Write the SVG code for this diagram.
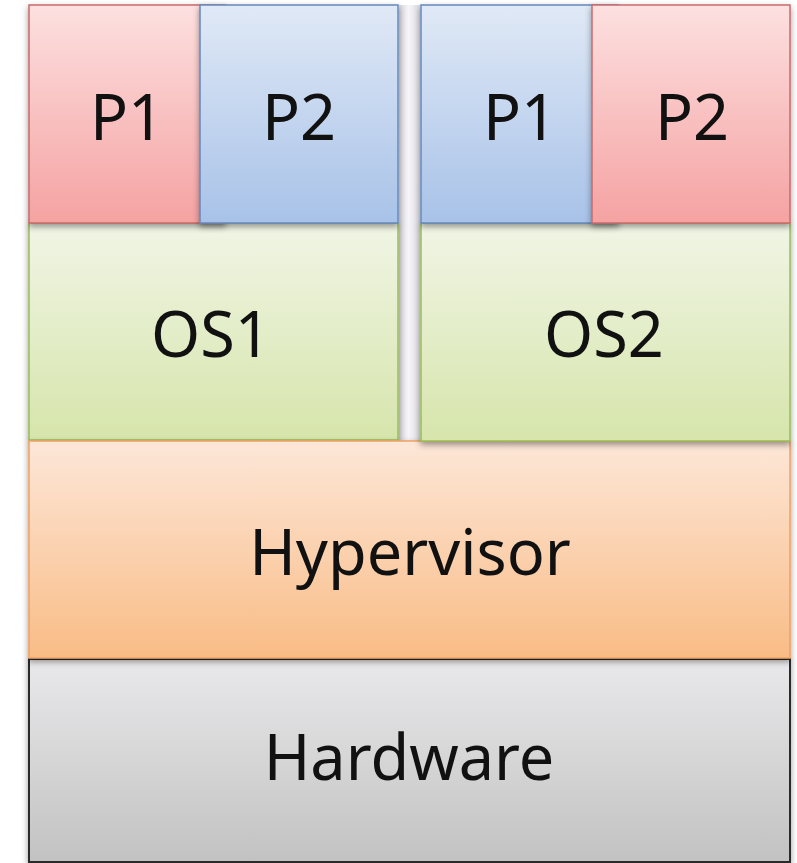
<svg xmlns="http://www.w3.org/2000/svg" width="797" height="863" viewBox="0 0 797 863">
<defs>
<linearGradient id="gRed" x1="0" y1="0" x2="0" y2="1"><stop offset="0" stop-color="#fde0e0"/><stop offset="1" stop-color="#f5a2a2"/></linearGradient>
<linearGradient id="gBlue" x1="0" y1="0" x2="0" y2="1"><stop offset="0" stop-color="#e0e9f6"/><stop offset="1" stop-color="#a8c2e8"/></linearGradient>
<linearGradient id="gGreen" x1="0" y1="0" x2="0" y2="1"><stop offset="0" stop-color="#f1f5e6"/><stop offset="1" stop-color="#d6e5ab"/></linearGradient>
<linearGradient id="gOrange" x1="0" y1="0" x2="0" y2="1"><stop offset="0" stop-color="#fde7d8"/><stop offset="1" stop-color="#f9bc86"/></linearGradient>
<linearGradient id="gGray" x1="0" y1="0" x2="0" y2="1"><stop offset="0" stop-color="#e9e9eb"/><stop offset="1" stop-color="#c2c2c2"/></linearGradient>
<linearGradient id="gGap" x1="0" y1="0" x2="1" y2="0"><stop offset="0" stop-color="#d6d4d9"/><stop offset="0.45" stop-color="#f6f5f8"/><stop offset="1" stop-color="#dddbe0"/></linearGradient>
<filter id="sh" x="-5%" y="-5%" width="110%" height="115%"><feDropShadow dx="0" dy="3" stdDeviation="3" flood-color="#000" flood-opacity="0.4"/></filter>
</defs>
<style>
text{font-family:"Noto Sans","Open Sans",sans-serif;font-size:63px;fill:#111;text-anchor:middle}
.red{fill:url(#gRed);stroke:#c96a6a;stroke-width:1.5}
.blue{fill:url(#gBlue);stroke:#6488bd;stroke-width:1.5}
.green{fill:url(#gGreen);stroke:#9bbb59;stroke-width:1.5}
.orange{fill:url(#gOrange);stroke:#f0a060;stroke-width:1.5}
.gray{fill:url(#gGray);stroke:#2a2a2a;stroke-width:2}
</style>
<rect x="0" y="0" width="797" height="863" fill="#fff"/>
<rect x="399" y="5" width="21" height="436" fill="url(#gGap)"/>
<g id="hardware">
<rect class="gray" x="29" y="659" width="761" height="203" filter="url(#sh)"/>
<text x="409" y="780">Hardware</text>
</g>
<g id="os1">
<rect class="green" x="29" y="223" width="369" height="217" filter="url(#sh)"/>
<text x="211" y="357">OS1</text>
</g>
<g id="hypervisor">
<rect class="orange" x="29" y="441" width="761" height="217" filter="url(#sh)"/>
<text x="410" y="575">Hypervisor</text>
</g>
<g id="os2">
<rect class="green" x="421" y="223" width="369" height="218" filter="url(#sh)"/>
<text x="604" y="357">OS2</text>
</g>
<g id="vm1-p1">
<rect class="red" x="29" y="5" width="196" height="218" filter="url(#sh)"/>
<text x="127" y="140">P1</text>
</g>
<g id="vm1-p2">
<rect class="blue" x="200" y="5" width="198" height="218" filter="url(#sh)"/>
<text x="299" y="140">P2</text>
</g>
<g id="vm2-p1">
<rect class="blue" x="421" y="5" width="197" height="218" filter="url(#sh)"/>
<text x="520" y="140">P1</text>
</g>
<g id="vm2-p2">
<rect class="red" x="592" y="5" width="198" height="218" filter="url(#sh)"/>
<text x="692" y="140">P2</text>
</g>
<g id="connectors"/>
</svg>
